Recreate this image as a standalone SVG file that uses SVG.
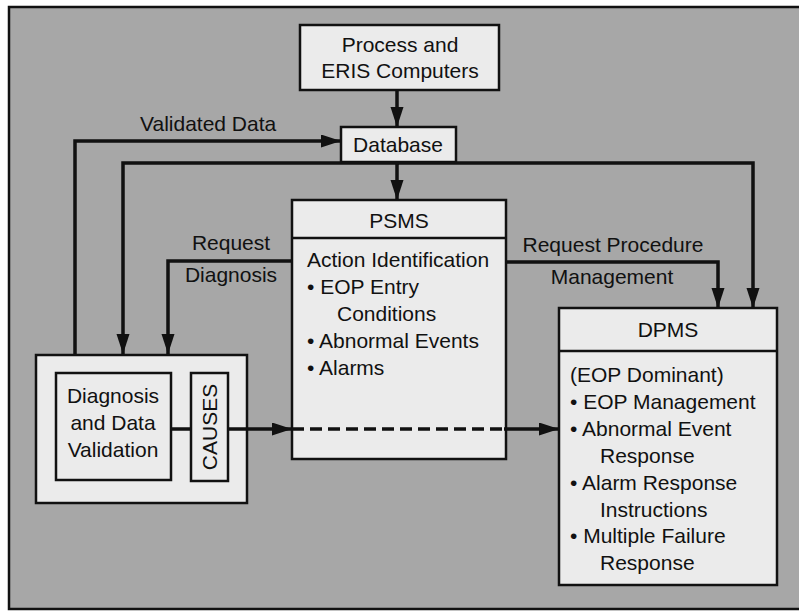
<svg xmlns="http://www.w3.org/2000/svg" width="799" height="611" viewBox="0 0 799 611">
<defs>
<marker id="ah" markerUnits="userSpaceOnUse" markerWidth="22" markerHeight="14" refX="20" refY="6.5" orient="auto">
<path d="M0,0 L20,6.5 L0,13 z" fill="#111"/>
</marker>
</defs>
<style>
.box{fill:#ebebeb;stroke:#111;stroke-width:2.5}
.t{font-family:"Liberation Sans",Arial,sans-serif;font-size:21px;fill:#111}
.m{text-anchor:middle}
.c{fill:none;stroke:#111;stroke-width:3.5}
.h{marker-end:url(#ah)}
.d{stroke-dasharray:12 6}
</style>
<rect x="0" y="0" width="799" height="611" fill="#fff"/>
<rect x="9" y="7" width="800" height="602" fill="#a7a7a7" stroke="#111" stroke-width="2.5"/>

<g id="labels">
<text class="t" x="140" y="131">Validated Data</text>
<text class="t m" x="231" y="250">Request</text>
<text class="t m" x="231" y="282">Diagnosis</text>
<text class="t m" x="613" y="252">Request Procedure</text>
<text class="t m" x="612" y="284">Management</text>
</g>

<g id="process">
<rect class="box" x="300" y="25" width="199" height="65"/>
<text class="t m" x="400" y="52">Process and</text>
<text class="t m" x="400" y="78">ERIS Computers</text>
</g>

<g id="database">
<rect class="box" x="341" y="127" width="115" height="35"/>
<text class="t m" x="398" y="152">Database</text>
</g>

<g id="psms">
<rect class="box" x="292" y="200" width="214" height="259"/>
<line x1="292" y1="238" x2="506" y2="238" stroke="#111" stroke-width="2.5"/>
<text class="t m" x="399" y="228">PSMS</text>
<text class="t" x="307" y="267">Action Identification</text>
<text class="t" x="307" y="294">• EOP Entry</text>
<text class="t" x="337" y="321">Conditions</text>
<text class="t" x="307" y="348">• Abnormal Events</text>
<text class="t" x="307" y="375">• Alarms</text>
</g>

<g id="dpms">
<rect class="box" x="559" y="308" width="218" height="277"/>
<line x1="559" y1="351" x2="777" y2="351" stroke="#111" stroke-width="2.5"/>
<text class="t m" x="668" y="337">DPMS</text>
<text class="t" x="570" y="382">(EOP Dominant)</text>
<text class="t" x="570" y="409">• EOP Management</text>
<text class="t" x="570" y="436">• Abnormal Event</text>
<text class="t" x="600" y="463">Response</text>
<text class="t" x="570" y="490">• Alarm Response</text>
<text class="t" x="600" y="517">Instructions</text>
<text class="t" x="570" y="543">• Multiple Failure</text>
<text class="t" x="600" y="570">Response</text>
</g>

<g id="diagnosis-group">
<rect class="box" x="36" y="355" width="211" height="148"/>
</g>

<g id="diagnosis">
<rect class="box" x="56" y="373" width="115" height="107"/>
<text class="t m" x="113" y="403">Diagnosis</text>
<text class="t m" x="113" y="430">and Data</text>
<text class="t m" x="113" y="457">Validation</text>
</g>

<g id="causes">
<rect class="box" x="191" y="373" width="37" height="108"/>
<text class="t m" x="0" y="0" transform="translate(216.5,427) rotate(-90)">CAUSES</text>
</g>

<g id="connectors">
<path class="c h" d="M397,90 V127"/>
<path class="c h" d="M75,354 V141 H341"/>
<path class="c h" d="M397,162 V200"/>
<path class="c h" d="M399,163 H123 V354"/>
<path class="c h" d="M397,163 H753 V308"/>
<path class="c h" d="M292,261 H168 V354"/>
<path class="c h" d="M506,262 H718 V308"/>
<path class="c" d="M171,429 H191"/>
<path class="c h" d="M228,429 H292"/>
<path class="c d" d="M292,429 H506"/>
<path class="c h" d="M504,429 H559"/>
</g>
</svg>
